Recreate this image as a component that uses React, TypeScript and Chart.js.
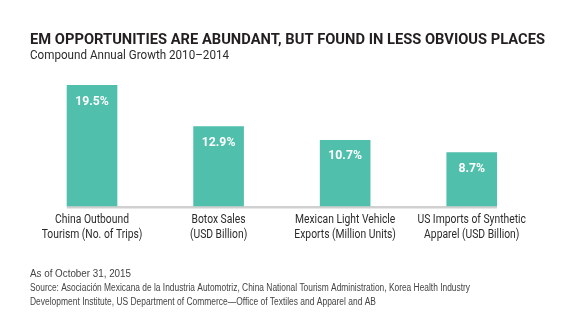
import { useEffect, useRef } from "react";
import { Chart, registerables } from "chart.js";

Chart.register(...registerables);

const categories: string[][] = [
  ["China Outbound", "Tourism (No. of Trips)"],
  ["Botox Sales", "(USD Billion)"],
  ["Mexican Light Vehicle", "Exports (Million Units)"],
  ["US Imports of Synthetic", "Apparel (USD Billion)"],
];
const growth: number[] = [19.5, 12.9, 10.7, 8.7];
const titleText = "EM OPPORTUNITIES ARE ABUNDANT, BUT FOUND IN LESS OBVIOUS PLACES";
const subtitleText = "Compound Annual Growth 2010–2014";
const footnotes: string[] = [
  "As of October 31, 2015",
  "Source: Asociación Mexicana de la Industria Automotriz, China National Tourism Administration, Korea Health Industry",
  "Development Institute, US Department of Commerce—Office of Textiles and Apparel and AB",
];

const BAR_COLOR = "#50bfab";

function drawFit(
  ctx: CanvasRenderingContext2D,
  text: string,
  x: number,
  y: number,
  font: string,
  color: string,
  opts: { width?: number; scale?: number; align?: "left" | "center" } = {}
) {
  ctx.save();
  ctx.font = font;
  ctx.fillStyle = color;
  ctx.textBaseline = "alphabetic";
  const w = ctx.measureText(text).width;
  let sx = opts.scale ?? 1;
  if (opts.width) sx = opts.width / w;
  ctx.translate(x, y);
  ctx.scale(sx, 1);
  ctx.textAlign = opts.align ?? "left";
  ctx.fillText(text, 0, 0);
  ctx.restore();
}

const textPlugin = {
  id: "textPlugin",
  beforeDatasetsDraw(chart: any) {
    const ctx = chart.ctx as CanvasRenderingContext2D;
    const meta = chart.getDatasetMeta(0);
    const first = meta.data[0];
    const last = meta.data[meta.data.length - 1];
    const base = chart.scales.y.getPixelForValue(0);
    ctx.save();
    ctx.fillStyle = "#d0d0d0";
    ctx.fillRect(first.x - first.width / 2, base - 0.5, last.x + last.width / 2 - (first.x - first.width / 2), 2.5);
    ctx.restore();
  },
  afterDatasetsDraw(chart: any) {
    const ctx = chart.ctx as CanvasRenderingContext2D;
    const meta = chart.getDatasetMeta(0);
    const xScale = chart.scales.x;
    // value labels
    meta.data.forEach((bar: any, i: number) => {
      drawFit(ctx, growth[i].toFixed(1) + "%", bar.x, bar.y + 19.5, "bold 12.5px Roboto", "#ffffff", {
        align: "center",
        scale: 0.98,
      });
    });
    // category labels
    categories.forEach((lines, i) => {
      const x = xScale.getPixelForValue(i);
      lines.forEach((ln, j) => {
        drawFit(ctx, ln, x, 223 + j * 15, "12px Roboto", "#2b2b2b", { align: "center", scale: 0.86 });
      });
    });
    // title & subtitle
    drawFit(ctx, titleText, 30, 44, "bold 14.5px Roboto", "#231f20", { width: 515 });
    drawFit(ctx, subtitleText, 30, 59, "12px Roboto", "#2b2b2b", { width: 199 });
    // footnotes
    const widths = [101, 440, 346];
    footnotes.forEach((ln, i) => {
      drawFit(ctx, ln, 30, 277 + i * 14, "10px 'Liberation Sans'", "#444444", { width: widths[i] });
    });
  },
};

export default function App() {
  const ref = useRef<HTMLCanvasElement | null>(null);
  useEffect(() => {
    document.body.style.margin = "0";
    const canvas = ref.current!;
    const chart = new Chart(canvas, {
      type: "bar",
      data: {
        labels: categories,
        datasets: [
          {
            data: growth,
            backgroundColor: BAR_COLOR,
            barPercentage: 0.8,
            categoryPercentage: 0.5,
          },
        ],
      },
      options: {
        animation: false,
        responsive: false,
        devicePixelRatio: 1,
        layout: { padding: { left: 28.75, right: 45, top: 82, bottom: 121.5 } },
        plugins: { legend: { display: false }, tooltip: { enabled: false } },
        scales: {
          x: { display: false },
          y: { display: false, min: 0, max: 20 },
        },
      },
      plugins: [textPlugin],
    });
    return () => chart.destroy();
  }, []);
  return (
    <div style={{ width: 580, height: 328, background: "#fff" }}>
      <canvas ref={ref} width={580} height={328} style={{ display: "block" }} />
    </div>
  );
}
